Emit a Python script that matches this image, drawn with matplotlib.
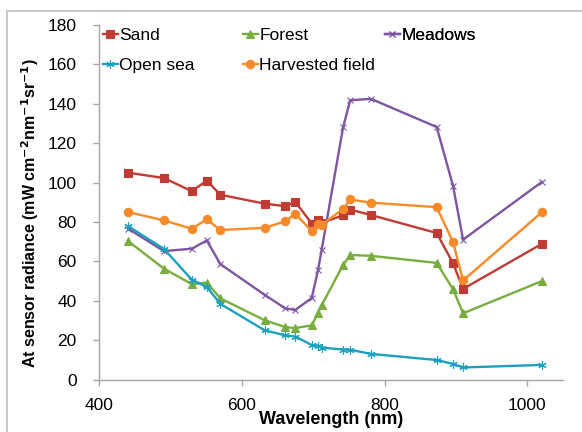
import numpy as np
import matplotlib
matplotlib.use("Agg")
import matplotlib.pyplot as plt
from matplotlib.lines import Line2D

plt.rcParams['font.family'] = ['Liberation Sans', 'DejaVu Sans']

# wavelengths (nm)
wl = [441, 491, 530, 551, 570, 632, 661, 675, 698, 707, 712, 742, 752, 781, 873, 896, 910, 1020]

sand = [105, 102.3, 95.6, 101, 93.8, 89.3, 88, 90.2, 79.2, 81.2, 79.5, 83.4, 86.3, 83.5, 74.4, 59, 46, 68.8]
forest = [70.2, 56.3, 48.4, 49.2, 41.2, 30.1, 26.6, 26.1, 27.5, 33.8, 37.7, 58.2, 63.2, 62.8, 59.2, 45.8, 33.6, 49.9]
meadows = [76.5, 65.2, 66.4, 70.6, 58.6, 43, 36.1, 35.3, 41.4, 55.8, 66, 128.2, 141.8, 142.5, 128.2, 98.3, 71, 100.2]
open_sea = [77.8, 66.3, 50.7, 47, 38.4, 25, 22.4, 21.8, 17.5, 17.2, 16.2, 15.2, 15.1, 13, 9.9, 7.9, 6.1, 7.4]
harvested = [85, 80.8, 76.5, 81.3, 75.9, 77, 80.3, 84.2, 75.3, 79.2, 78.6, 86.6, 91.4, 89.8, 87.5, 69.8, 50.3, 84.8]

fig = plt.figure(figsize=(5.82, 4.32), dpi=100)
ax = fig.add_axes([99/582, 1-379.5/432, (563-99)/582, (379.5-25)/432])

kw = dict(lw=1.7, mew=0.8)
h_sand, = ax.plot(wl, sand, color='#BF3B33', marker='s', ms=5.5, label='Sand', **kw)
h_for, = ax.plot(wl, forest, color='#79AD40', marker='^', ms=5.5, label='Forest', **kw)
h_mea, = ax.plot(wl, meadows, color='#7D55A0', marker='x', ms=5, label='Meadows', **kw)
h_sea, = ax.plot(wl, open_sea, color='#1AA1C0', marker=(6, 2, 0), ms=6, label='Open sea', **kw)
h_har, = ax.plot(wl, harvested, color='#F68A28', marker='o', ms=6, label='Harvested field', **kw)

ax.set_xlim(400, 1050)
ax.set_ylim(0, 180)
ax.set_xticks([400, 600, 800, 1000])
ax.set_yticks(np.arange(0, 181, 20))

for s in ['top', 'right']:
    ax.spines[s].set_visible(False)
for s in ['left', 'bottom']:
    ax.spines[s].set_color('#A6A6A6')
    ax.spines[s].set_linewidth(1.0)
ax.tick_params(colors='#A6A6A6', labelcolor='black', labelsize=12.5, length=4, width=1)
ax.tick_params(axis='y', pad=12)
ax.tick_params(axis='x', pad=9)

ax.set_xlabel('Wavelength (nm)', fontsize=13, fontweight='bold')
ax.xaxis.set_label_coords(0.5, -0.09)
ax.set_ylabel('At sensor radiance (mW cm$^{\\mathbf{-2}}$nm$^{\\mathbf{-1}}$sr$^{\\mathbf{-1}}$)',
              fontsize=11.5, fontweight='bold')
ax.yaxis.set_label_coords(-0.125, 0.47)

# legend, one per column like the Excel layout
lkw = dict(frameon=False, fontsize=12.5, handlelength=0.85, handletextpad=0.1,
           labelspacing=0.85, borderpad=0, borderaxespad=0, loc='upper left')
cols = [([h_sand, h_sea], 103), ([h_for, h_har], 243), ([h_mea], 385)]
for handles, xp in cols:
    leg = ax.legend(handles=handles, bbox_to_anchor=((xp-99)/464, 1-(28-25)/354.5), **lkw)
    ax.add_artist(leg)

# chart-area border
fig.add_artist(Line2D([7/582, 1], [1-11/432, 1-11/432], color='#C8C8C8', lw=1.5))
fig.add_artist(Line2D([7/582, 7/582], [0, 1-11/432], color='#C8C8C8', lw=1.5))

fig.savefig('out.png', dpi=100)
